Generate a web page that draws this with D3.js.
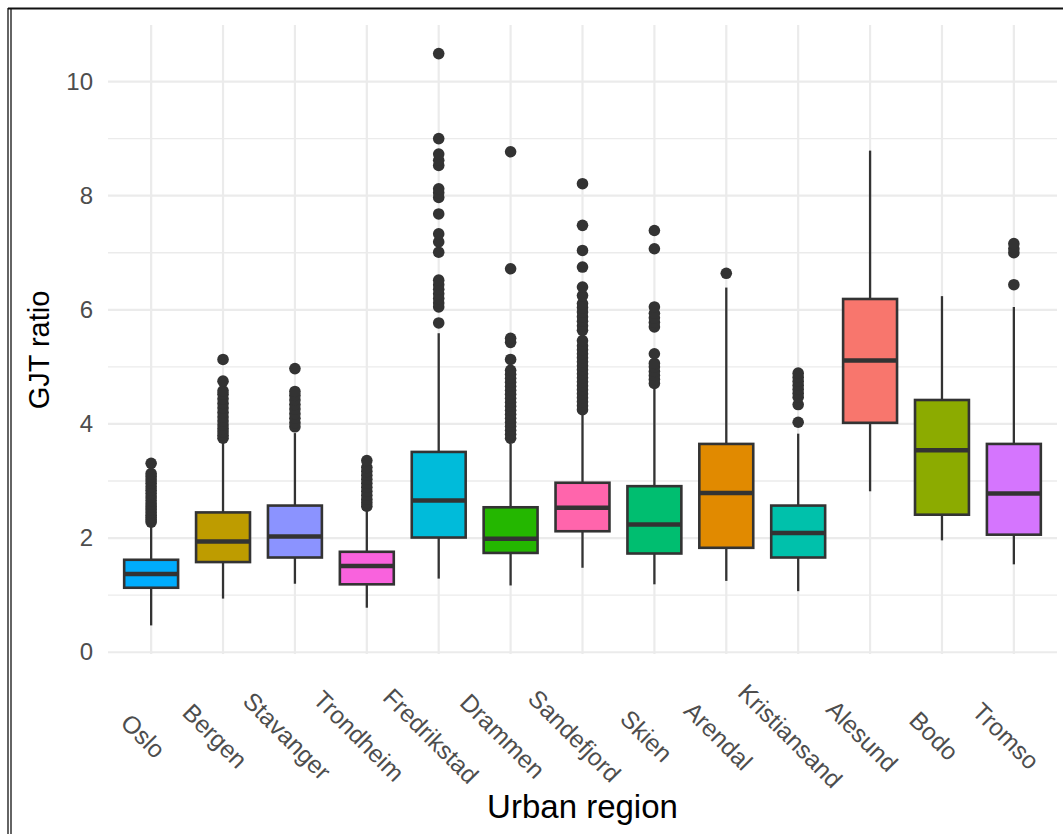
<!DOCTYPE html>
<html>
<head>
<meta charset="utf-8">
<script src="https://cdn.jsdelivr.net/npm/d3@7"></script>
<style>
  body { margin: 0; background: #fff; }
  svg { display: block; font-family: "Liberation Sans", Arial, sans-serif; }
</style>
</head>
<body>
<div class="vis-box"></div>
<script>
// data
var regions = ["Oslo", "Bergen", "Stavanger", "Trondheim", "Fredrikstad", "Drammen", "Sandefjord",
               "Skien", "Arendal", "Kristiansand", "Alesund", "Bodo", "Tromso"];
var whiskerLow  = [0.47, 0.94, 1.20, 0.78, 1.29, 1.17, 1.48, 1.19, 1.25, 1.07, 2.82, 1.96, 1.54];
var q1          = [1.13, 1.58, 1.66, 1.19, 2.01, 1.74, 2.12, 1.73, 1.83, 1.66, 4.02, 2.41, 2.06];
var median      = [1.37, 1.94, 2.03, 1.51, 2.66, 1.99, 2.53, 2.24, 2.79, 2.09, 5.11, 3.54, 2.78];
var q3          = [1.62, 2.45, 2.57, 1.76, 3.51, 2.54, 2.97, 2.91, 3.65, 2.57, 6.19, 4.42, 3.65];
var whiskerHigh = [2.26, 3.71, 3.84, 2.49, 5.59, 3.65, 4.18, 4.62, 6.39, 3.83, 8.79, 6.24, 6.05];
var outliers = [
  [2.28, 2.32, 2.36, 2.40, 2.45, 2.50, 2.55, 2.60, 2.66, 2.72, 2.78, 2.84, 2.90, 2.96, 3.02, 3.08, 3.13, 3.31],
  [3.75, 3.80, 3.86, 3.92, 3.98, 4.05, 4.12, 4.20, 4.28, 4.36, 4.44, 4.52, 4.58, 4.75, 5.13],
  [3.95, 4.02, 4.10, 4.18, 4.26, 4.34, 4.42, 4.50, 4.57, 4.97],
  [2.56, 2.62, 2.68, 2.75, 2.82, 2.89, 2.96, 3.03, 3.10, 3.17, 3.24, 3.36],
  [5.77, 6.05, 6.12, 6.20, 6.28, 6.36, 6.44, 6.52, 7.01, 7.19, 7.33, 7.68, 7.97, 8.05, 8.12, 8.53, 8.62, 8.73, 9.00, 10.49],
  [3.75, 3.82, 3.89, 3.96, 4.03, 4.10, 4.17, 4.24, 4.31, 4.38, 4.45, 4.52, 4.59, 4.66, 4.73, 4.80, 4.87, 4.94, 5.13, 5.43, 5.50, 6.72, 8.77],
  [4.25, 4.32, 4.39, 4.46, 4.53, 4.60, 4.67, 4.74, 4.81, 4.88, 4.95, 5.02, 5.09, 5.16, 5.23, 5.30, 5.37, 5.46,
   5.64, 5.72, 5.80, 5.88, 5.96, 6.04, 6.11, 6.25, 6.40, 6.75, 7.04, 7.48, 8.21],
  [4.71, 4.78, 4.85, 4.92, 5.00, 5.06, 5.23, 5.70, 5.78, 5.86, 5.94, 6.05, 7.07, 7.39],
  [6.64],
  [4.03, 4.34, 4.47, 4.54, 4.61, 4.68, 4.75, 4.82, 4.89],
  [],
  [],
  [6.44, 7.00, 7.07, 7.16]
];
var yTicks = [0, 2, 4, 6, 8, 10];
var yMinor = [1, 3, 5, 7, 9];

var fills = ["#00ACFC", "#BE9C00", "#8B93FF", "#F962DD", "#00BBDA", "#24B700", "#FF65AC",
             "#00BE70", "#E18A00", "#00C1AB", "#F8766D", "#8CAB00", "#D575FE"];

var W = 1063, H = 834;
var margin = {top: 25, right: 6, bottom: 180, left: 108};
var plotW = W - margin.left - margin.right,
    plotH = H - margin.top - margin.bottom;

var rows = regions.map(function(r, i) {
  return {region: r, lo: whiskerLow[i], q1: q1[i], med: median[i], q3: q3[i], hi: whiskerHigh[i],
          out: outliers[i], fill: fills[i]};
});

// ggplot style 5% expansion of the data range
var allVals = whiskerLow.concat(whiskerHigh, d3.merge(outliers));
var ext = d3.extent(allVals), pad = (ext[1] - ext[0]) * 0.05;

var x = d3.scaleBand().domain(regions).range([0, plotW]).paddingOuter(0.1).paddingInner(0);
var y = d3.scaleLinear().domain([ext[0] - pad, ext[1] + pad]).range([plotH, 0]);
var bw = x.bandwidth() * 0.75;
var cx = function(d) { return x(d.region) + x.bandwidth() / 2; };

var svg = d3.select('.vis-box').append('svg')
    .attr('width', W)
    .attr('height', H);

// frame lines at the edges
svg.append('line').attr('x1', 8).attr('x2', W).attr('y1', 8.5).attr('y2', 8.5)
    .attr('stroke', '#111').attr('stroke-width', 2);
svg.append('line').attr('x1', 8).attr('x2', 8).attr('y1', 8).attr('y2', H).attr('stroke', '#111').attr('stroke-width', 1.3);
svg.append('line').attr('x1', 11).attr('x2', 11).attr('y1', 8).attr('y2', H).attr('stroke', '#111').attr('stroke-width', 1.3);

var g = svg.append('g').attr('transform', 'translate(' + margin.left + ',' + margin.top + ')');

// grid
g.selectAll('.minor').data(yMinor).enter().append('line')
    .attr('x1', 0).attr('x2', plotW)
    .attr('y1', function(d) { return y(d); }).attr('y2', function(d) { return y(d); })
    .attr('stroke', '#EBEBEB').attr('stroke-width', 1.4);
g.selectAll('.major').data(yTicks).enter().append('line')
    .attr('x1', 0).attr('x2', plotW)
    .attr('y1', function(d) { return y(d); }).attr('y2', function(d) { return y(d); })
    .attr('stroke', '#EBEBEB').attr('stroke-width', 2.2);
g.selectAll('.vgrid').data(regions).enter().append('line')
    .attr('x1', function(d) { return x(d) + x.bandwidth() / 2; })
    .attr('x2', function(d) { return x(d) + x.bandwidth() / 2; })
    .attr('y1', 0).attr('y2', plotH)
    .attr('stroke', '#EBEBEB').attr('stroke-width', 2.2);

// y axis labels
var yAxis = g.append('g')
    .call(d3.axisLeft(y).tickValues(yTicks).tickSize(0).tickPadding(15));
yAxis.select('.domain').remove();
yAxis.selectAll('text').attr('fill', '#4D4D4D').style('font-size', '24px')
    .attr('font-family', '"Liberation Sans", Arial, sans-serif');

// x axis labels, rotated
g.selectAll('.xlab').data(regions).enter().append('text')
    .attr('transform', function(d) {
      return 'translate(' + (x(d) + x.bandwidth() / 2 - 8) + ',' + (plotH + 82) + ') rotate(45)';
    })
    .attr('text-anchor', 'middle')
    .attr('dominant-baseline', 'central')
    .attr('fill', '#4D4D4D')
    .style('font-size', '24.5px')
    .text(function(d) { return d; });

// boxes
var box = g.selectAll('.box').data(rows).enter().append('g');

box.append('line')
    .attr('x1', cx).attr('x2', cx)
    .attr('y1', function(d) { return y(d.lo); }).attr('y2', function(d) { return y(d.q1); })
    .attr('stroke', '#333').attr('stroke-width', 2.3);
box.append('line')
    .attr('x1', cx).attr('x2', cx)
    .attr('y1', function(d) { return y(d.q3); }).attr('y2', function(d) { return y(d.hi); })
    .attr('stroke', '#333').attr('stroke-width', 2.3);
box.append('rect')
    .attr('x', function(d) { return cx(d) - bw / 2; })
    .attr('width', bw)
    .attr('y', function(d) { return y(d.q3); })
    .attr('height', function(d) { return y(d.q1) - y(d.q3); })
    .attr('fill', function(d) { return d.fill; })
    .attr('stroke', '#333').attr('stroke-width', 2.6);
box.append('line')
    .attr('x1', function(d) { return cx(d) - bw / 2; })
    .attr('x2', function(d) { return cx(d) + bw / 2; })
    .attr('y1', function(d) { return y(d.med); }).attr('y2', function(d) { return y(d.med); })
    .attr('stroke', '#333').attr('stroke-width', 4.5);

box.selectAll('circle')
    .data(function(d) { return d.out.map(function(v) { return {v: v, x: cx(d)}; }); })
    .enter().append('circle')
    .attr('cx', function(d) { return d.x; })
    .attr('cy', function(d) { return y(d.v); })
    .attr('r', 5.8)
    .attr('fill', '#333');

// axis titles
svg.append('text')
    .attr('transform', 'translate(49,350) rotate(-90)')
    .attr('text-anchor', 'middle')
    .attr('fill', '#000')
    .style('font-size', '29px')
    .text('GJT ratio');
svg.append('text')
    .attr('x', margin.left + plotW / 2)
    .attr('y', 818)
    .attr('text-anchor', 'middle')
    .attr('fill', '#000')
    .style('font-size', '33px')
    .text('Urban region');
</script>
</body>
</html>
